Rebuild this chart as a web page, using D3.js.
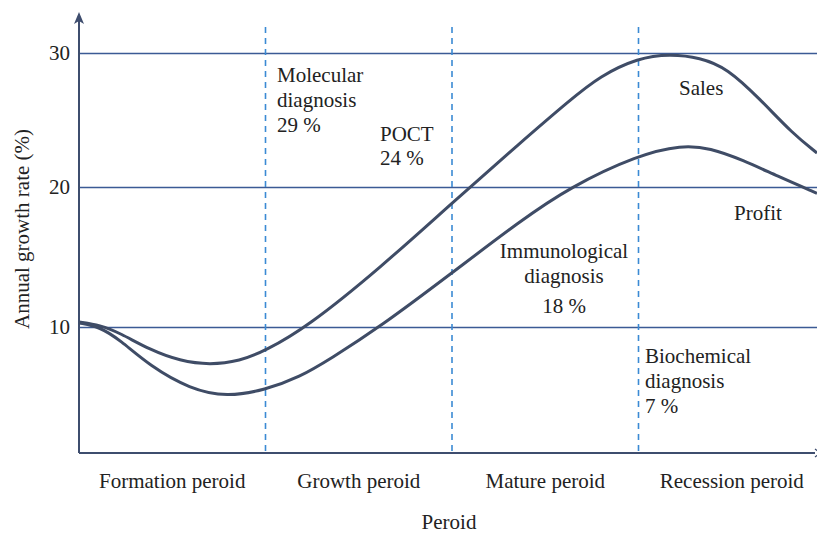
<!DOCTYPE html>
<html>
<head>
<meta charset="utf-8">
<script src="https://cdn.jsdelivr.net/npm/d3@7"></script>
<style>
  html, body { margin: 0; padding: 0; background: #fff; }
  svg { display: block; font-family: "Liberation Serif", "Times New Roman", serif; }
  text { fill: #222; }
</style>
</head>
<body>
<svg id="chart" width="817" height="534"></svg>
<script>
// periods along the x axis
var periods = ["Formation peroid", "Growth peroid", "Mature peroid", "Recession peroid"];
var yTicks = [10, 20, 30];

// curves, x in period units (0..4), y in annual growth rate %
var salesX = [0, 0.113, 0.22, 0.381, 0.542, 0.702, 0.863, 0.997, 1.223, 1.614, 2.0, 2.365, 2.633, 2.794, 2.997, 3.169, 3.33, 3.475, 3.651, 3.828, 3.957];
var salesY = [10.36, 10.14, 9.57, 8.36, 7.57, 7.29, 7.57, 8.29, 10.0, 14.21, 18.86, 23.28, 26.49, 28.28, 29.63, 29.93, 29.66, 28.88, 26.57, 23.96, 22.54];
var profitX = [0, 0.113, 0.22, 0.381, 0.595, 0.794, 0.997, 1.185, 1.346, 1.614, 2.0, 2.365, 2.633, 2.997, 3.233, 3.383, 3.56, 3.743, 3.957];
var profitY = [10.29, 10.0, 9.07, 7.21, 5.57, 5.0, 5.5, 6.43, 7.71, 10.0, 13.86, 17.57, 20.0, 22.39, 23.13, 22.91, 22.01, 20.82, 19.55];

// text notes
var molecularNote = ["Molecular", "diagnosis", "29 %"];
var poctNote = ["POCT", "24 %"];
var immunoNote = ["Immunological", "diagnosis", "18 %"];
var biochemNote = ["Biochemical", "diagnosis", "7 %"];

var svg = d3.select("#chart");
var axisColor = "#3e4d6e";
var gridColor = "#3b5a95";
var curveColor = "#3f4c66";
var dashColor = "#3b8ad4";
var fontSize = "21px";

var left = 79, bandW = 186.5, axisY = 453;

var x = d3.scaleBand().domain(periods).range([left, left + 4 * bandW]).padding(0);
var xc = d3.scaleLinear().domain([0, 4]).range([left, left + 4 * bandW]);
// gridlines are not quite evenly spaced in the picture
var y = d3.scaleLinear().domain([10, 20, 30]).range([327, 187, 53]);

// gridlines + tick labels
var yAxis = svg.append("g")
  .attr("transform", "translate(" + left + ",0)")
  .call(d3.axisLeft(y).tickValues(yTicks).tickSizeInner(-(817 - left)).tickSizeOuter(0).tickPadding(9));
yAxis.select(".domain").remove();
yAxis.selectAll(".tick line").attr("stroke", gridColor).attr("stroke-width", 1.5);
yAxis.selectAll(".tick text")
  .attr("x", -9)
  .style("font-family", "Liberation Serif")
  .style("font-size", fontSize)
  .attr("fill", "#222");

// period boundaries
svg.selectAll(".bound")
  .data(periods.slice(1))
  .enter().append("line")
  .attr("class", "bound")
  .attr("x1", function(d) { return x(d); })
  .attr("x2", function(d) { return x(d); })
  .attr("y1", 27)
  .attr("y2", axisY)
  .attr("stroke", dashColor)
  .attr("stroke-width", 1.6)
  .attr("stroke-dasharray", "6,5");

// x axis labels
var xAxis = svg.append("g")
  .attr("transform", "translate(0," + axisY + ")")
  .call(d3.axisBottom(x).tickSize(0));
xAxis.select(".domain").remove();
xAxis.selectAll(".tick text")
  .attr("y", 35)
  .attr("dy", 0)
  .style("font-family", "Liberation Serif")
  .style("font-size", fontSize)
  .attr("fill", "#222");

// axis lines with arrows
svg.append("line")
  .attr("x1", left).attr("x2", left)
  .attr("y1", axisY).attr("y2", 20)
  .attr("stroke", axisColor).attr("stroke-width", 2);
svg.append("path")
  .attr("d", "M" + left + ",12 L" + (left - 5) + ",24 L" + left + ",21 L" + (left + 5) + ",24 Z")
  .attr("fill", axisColor);
svg.append("line")
  .attr("x1", left).attr("x2", 815)
  .attr("y1", axisY).attr("y2", axisY)
  .attr("stroke", axisColor).attr("stroke-width", 2);
svg.append("path")
  .attr("d", "M815," + (axisY - 4) + " L820," + axisY + " L815," + (axisY + 4))
  .attr("fill", "none").attr("stroke", axisColor).attr("stroke-width", 1.2);

// curves (basis smooths out small reading errors)
var line = d3.line()
  .x(function(d) { return xc(d[0]); })
  .y(function(d) { return y(d[1]); })
  .curve(d3.curveBasis);

svg.append("path")
  .datum(d3.zip(salesX, salesY))
  .attr("d", line)
  .attr("fill", "none").attr("stroke", curveColor).attr("stroke-width", 3);
svg.append("path")
  .datum(d3.zip(profitX, profitY))
  .attr("d", line)
  .attr("fill", "none").attr("stroke", curveColor).attr("stroke-width", 3);

// text
function note(lines, px, baselines, anchor) {
  var t = svg.append("text")
    .attr("text-anchor", anchor || "start")
    .style("font-size", fontSize);
  lines.forEach(function(s, i) {
    t.append("tspan").attr("x", px).attr("y", baselines[i]).text(s);
  });
}
note(molecularNote, 277, [82, 107, 132]);
note(poctNote, 380, [141, 165]);
note(immunoNote, 564, [258, 283, 313], "middle");
note(biochemNote, 645, [363, 388, 413]);
note(["Sales"], 679, [95]);
note(["Profit"], 734, [220]);

svg.append("text")
  .attr("text-anchor", "middle")
  .attr("x", 449).attr("y", 529)
  .style("font-size", fontSize)
  .text("Peroid");

svg.append("text")
  .attr("text-anchor", "middle")
  .attr("transform", "translate(29,229) rotate(-90)")
  .style("font-size", fontSize)
  .text("Annual growth rate (%)");
</script>
</body>
</html>
